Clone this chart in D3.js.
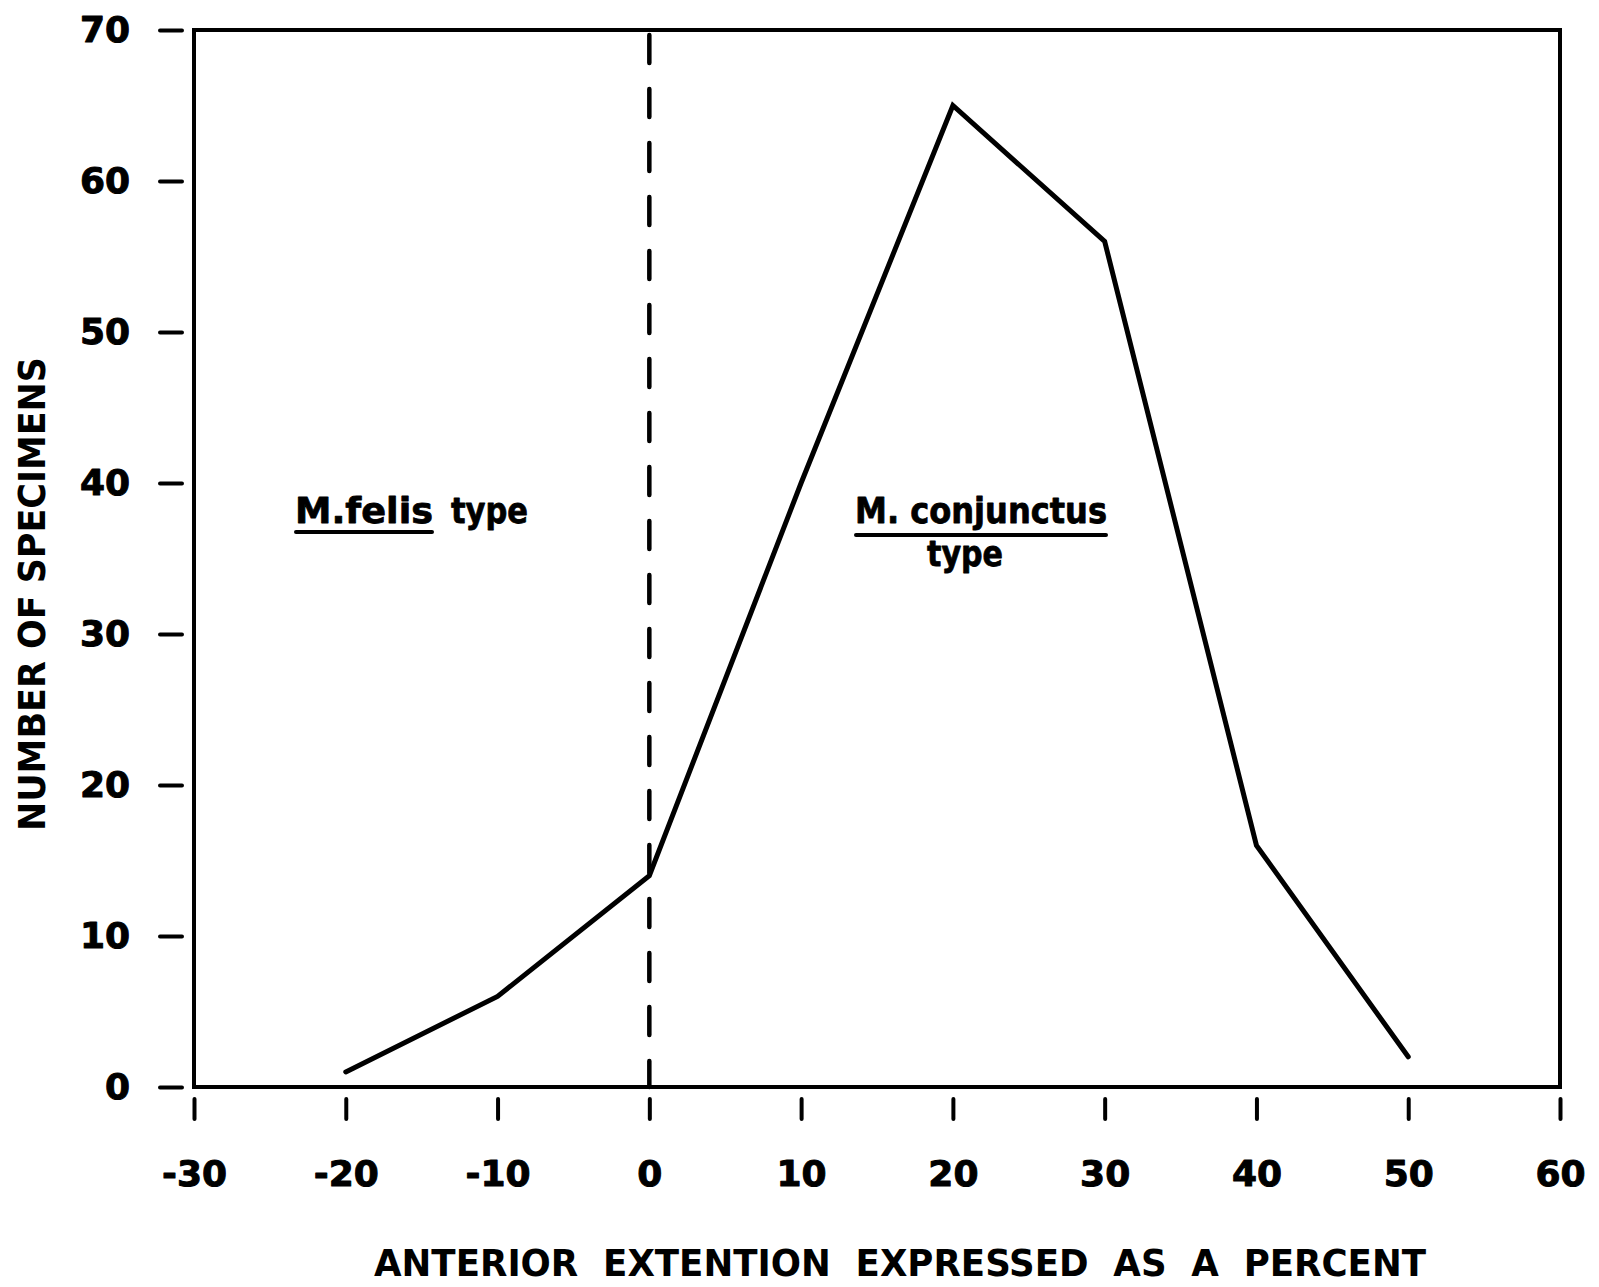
<!DOCTYPE html>
<html>
<head>
<meta charset="utf-8">
<script src="https://cdn.jsdelivr.net/npm/d3@7"></script>
<style>
  html, body { margin: 0; padding: 0; background: #fff; }
  svg { display: block; }
  text { fill: #000; }
</style>
</head>
<body>
<div id="chart"></div>
<script>
// Frequency of anterior extension (percent) in specimens
const extensionPercent = [-20, -10, 0, 10, 20, 30, 40, 50];
const specimenCounts   = [1, 6, 14, 40, 65, 56, 16, 2];

const xTickValues = [-30, -20, -10, 0, 10, 20, 30, 40, 50, 60];
const yTickValues = [0, 10, 20, 30, 40, 50, 60, 70];

const xTitle = "ANTERIOR  EXTENTION  EXPRESSED  AS  A  PERCENT";
const yTitle = "NUMBER OF SPECIMENS";
const felisLabel = ["M.felis", "type"];
const conjunctusLabel = ["M. conjunctus", "type"];
const boundaryValue = 0;

const W = 1599, H = 1287;
const plot = { left: 194, right: 1560, top: 30, bottom: 1087 };

const svg = d3.select("#chart").append("svg")
  .attr("width", W).attr("height", H);

const x = d3.scaleLinear().domain([-30, 60]).range([plot.left, plot.right]);
const y = d3.scaleLinear().domain([0, 70]).range([plot.bottom, plot.top]);

const boldFont = "'DejaVu Sans', 'Liberation Sans', sans-serif";
const condFont = "'DejaVu Sans Condensed', 'Liberation Sans Narrow', 'DejaVu Sans', sans-serif";

// heavier, pen-lettered look for the text
function ink(sel, w) {
  sel.attr("stroke", "#000").attr("stroke-width", w).attr("stroke-linejoin", "round");
}

// plot frame
svg.append("rect")
  .attr("x", plot.left).attr("y", plot.top)
  .attr("width", plot.right - plot.left)
  .attr("height", plot.bottom - plot.top)
  .attr("fill", "none")
  .attr("stroke", "#000")
  .attr("stroke-width", 4);

// detached left ticks
const yAxis = svg.append("g")
  .attr("transform", `translate(${plot.left - 12},0)`)
  .call(d3.axisLeft(y).tickValues(yTickValues).tickSize(22).tickPadding(30)
        .tickFormat(d3.format("d")));
yAxis.select(".domain").remove();
yAxis.selectAll(".tick line")
  .attr("stroke", "#000").attr("stroke-width", 4).attr("stroke-linecap", "round");
yAxis.selectAll(".tick text")
  .attr("font-family", boldFont).attr("font-weight", "bold")
  .attr("font-size", 36).attr("fill", "#000")
  .call(ink, 1);

// detached bottom ticks
const xAxis = svg.append("g")
  .attr("transform", `translate(0,${plot.bottom + 12})`)
  .call(d3.axisBottom(x).tickValues(xTickValues).tickSize(20)
        .tickFormat(d3.format("d")));
xAxis.select(".domain").remove();
xAxis.selectAll(".tick line")
  .attr("stroke", "#000").attr("stroke-width", 4).attr("stroke-linecap", "round");
xAxis.selectAll(".tick text")
  .attr("y", 87).attr("dy", null)
  .attr("font-family", boldFont).attr("font-weight", "bold")
  .attr("font-size", 36).attr("fill", "#000")
  .call(ink, 1)
  .text(d => d < 0 ? "-" + Math.abs(d) : String(d));

// dashed boundary between the two types
svg.append("line")
  .attr("x1", x(boundaryValue)).attr("x2", x(boundaryValue))
  .attr("y1", plot.top + 5).attr("y2", plot.bottom)
  .attr("stroke", "#000").attr("stroke-width", 4.5)
  .attr("stroke-linecap", "round")
  .attr("stroke-dasharray", "28,26");

// frequency polygon
const points = extensionPercent.map((v, i) => [v, specimenCounts[i]]);
svg.append("path")
  .datum(points)
  .attr("fill", "none")
  .attr("stroke", "#000")
  .attr("stroke-width", 5)
  .attr("stroke-linejoin", "miter")
  .attr("stroke-linecap", "round")
  .attr("d", d3.line().x(d => x(d[0])).y(d => y(d[1])));

// region labels
function underline(x1, x2, yy) {
  svg.append("line")
    .attr("x1", x1).attr("x2", x2).attr("y1", yy).attr("y2", yy)
    .attr("stroke", "#000").attr("stroke-width", 4).attr("stroke-linecap", "round");
}
function label(txt, xx, yy, len) {
  svg.append("text")
    .attr("x", xx).attr("y", yy)
    .attr("font-family", boldFont).attr("font-weight", "bold")
    .attr("font-size", 35)
    .attr("textLength", len).attr("lengthAdjust", "spacingAndGlyphs")
    .call(ink, 0.8)
    .text(txt);
}
label(felisLabel[0], 295, 523, 138);
underline(296, 432, 532);
label(felisLabel[1], 451, 523, 77);

label(conjunctusLabel[0], 855, 523, 252);
underline(856, 1106, 535);
label(conjunctusLabel[1], 927, 566, 76);

// axis titles
svg.append("text")
  .attr("transform", `translate(45,594) rotate(-90)`)
  .attr("text-anchor", "middle")
  .attr("font-family", boldFont).attr("font-weight", "bold")
  .attr("font-size", 37)
  .attr("textLength", 474).attr("lengthAdjust", "spacingAndGlyphs")
  .text(yTitle);

svg.append("text")
  .attr("x", 374).attr("y", 1276)
  .attr("font-family", condFont).attr("font-weight", "bold")
  .attr("font-size", 38)
  .attr("textLength", 1052).attr("lengthAdjust", "spacingAndGlyphs")
  .style("white-space", "pre")
  .text(xTitle);
</script>
</body>
</html>
